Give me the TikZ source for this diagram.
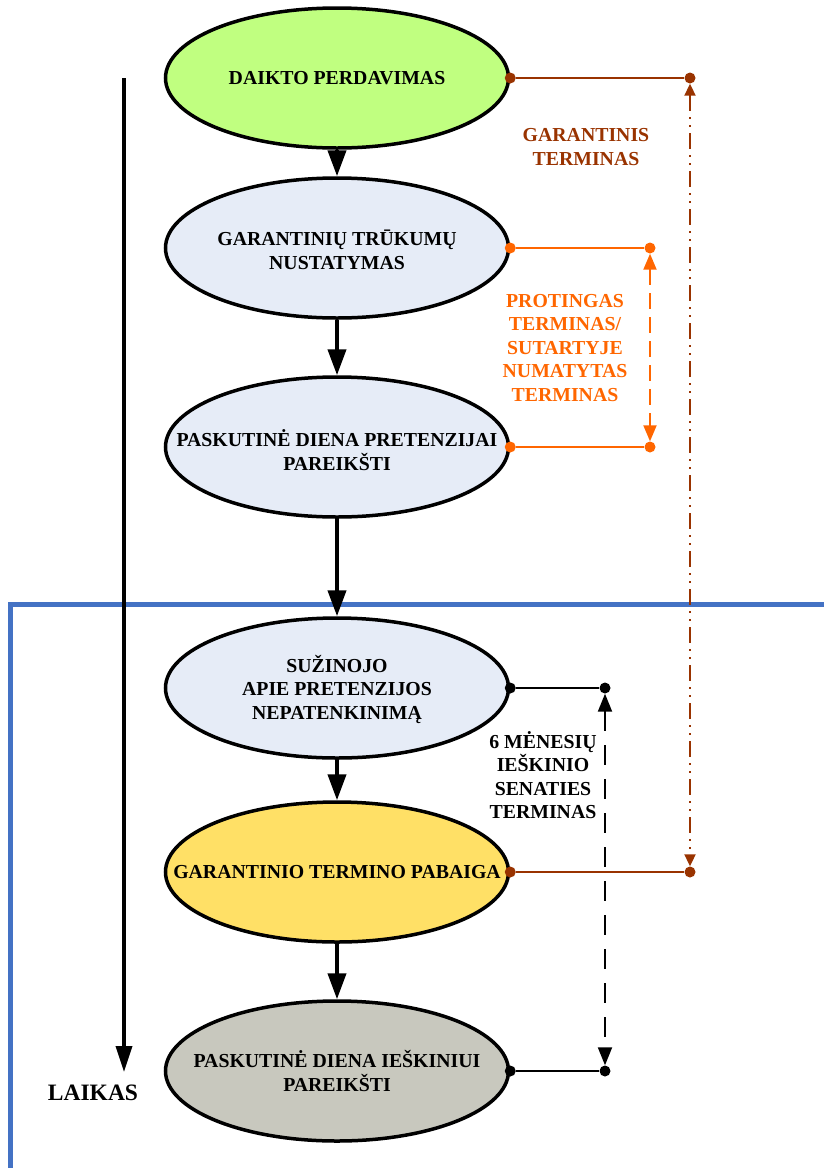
\documentclass[tikz,border=0pt]{standalone}
\usepackage{fontspec}
\setmainfont{Liberation Serif}
\usetikzlibrary{shapes.geometric,arrows.meta}
\definecolor{brownline}{RGB}{153,51,0}
\definecolor{orangeline}{RGB}{255,102,0}
\definecolor{frameblue}{RGB}{68,114,196}
\definecolor{fillgreen}{RGB}{192,255,128}
\definecolor{fillblue}{RGB}{230,236,247}
\definecolor{fillyellow}{RGB}{255,224,102}
\definecolor{fillgray}{RGB}{200,200,190}
\begin{document}
\begin{tikzpicture}[x=1pt,y=-1pt,
  event/.style={ellipse,draw=black,line width=3.5pt,minimum width=343pt,minimum height=140pt,
    inner sep=0pt},
  evtext/.style={inner sep=0pt,align=center,font=\bfseries\fontsize{19.8}{23.5}\selectfont},
  flow/.style={line width=4pt,-{Triangle[length=26pt,width=18pt]}},
  dotc/.style={circle,fill,inner sep=0pt,minimum size=11pt},
  link/.style={line width=2pt},
  lbl/.style={align=center,font=\bfseries\fontsize{19.8}{23.5}\selectfont}]
\useasboundingbox (0,0) rectangle (823,1168);

% frame of the second stage
\draw[frameblue,line width=5pt] (10,1170) -- (10,604) -- (825,604);

% time axis
\coordinate (t0) at (124,78);
\coordinate (t1) at (124,1072);
\draw[line width=3.5pt,-{Triangle[length=26pt,width=16pt]}] (t0) -- (t1);
\node[font=\bfseries\fontsize{23.5}{26}\selectfont] (laikas) at (93,1093) {LAIKAS};

% events
\node[event,fill=fillgreen] (e1) at (337,78) {};
\node[event,fill=fillblue] (e2) at (337,248) {};
\node[event,fill=fillblue] (e3) at (337,447) {};
\node[event,fill=fillblue] (e4) at (337,688) {};
\node[event,fill=fillyellow] (e5) at (337,872) {};
\node[event,fill=fillgray] (e6) at (337,1071) {};
\node[evtext] (e1t) at (e1) {DAIKTO PERDAVIMAS};
\node[evtext] (e2t) at (337,250) {GARANTINIŲ TRŪKUMŲ\\NUSTATYMAS};
\node[evtext] (e3t) at (337,450) {PASKUTINĖ DIENA PRETENZIJAI\\PAREIKŠTI};
\node[evtext] (e4t) at (337,689) {SUŽINOJO\\APIE PRETENZIJOS\\NEPATENKINIMĄ};
\node[evtext] (e5t) at (e5) {GARANTINIO TERMINO PABAIGA};
\node[evtext] (e6t) at (e6) {PASKUTINĖ DIENA IEŠKINIUI\\PAREIKŠTI};

\draw[flow] (e1.south) -- (e2.north);
\draw[flow] (e2.south) -- (e3.north);
\draw[flow] (e3.south) -- (e4.north);
\draw[flow] (e4.south) -- (e5.north);
\draw[flow] (e5.south) -- (e6.north);

% guarantee period
\node[dotc,brownline] (g0) at (e1.east) {};
\node[dotc,brownline] (g1) at (690,78) {};
\node[dotc,brownline] (g2) at (e5.east) {};
\node[dotc,brownline] (g3) at (690,872) {};
\draw[link,brownline] (g0) -- (g1);
\draw[link,brownline] (g2) -- (g3);
\draw[brownline,line width=2pt,dash pattern=on 16pt off 6pt on 2pt off 6pt on 2pt off 6pt,
  {Triangle[length=12pt,width=11pt]}-{Triangle[length=12pt,width=11pt]}] (g1) -- (g3);
\node[lbl,text=brownline] (gl) at (586,147) {GARANTINIS\\TERMINAS};

% reasonable / contractual period
\node[dotc,orangeline] (o0) at (e2.east) {};
\node[dotc,orangeline] (o1) at (650,248) {};
\node[dotc,orangeline] (o2) at (e3.east) {};
\node[dotc,orangeline] (o3) at (650,447) {};
\draw[link,orangeline] (o0) -- (o1);
\draw[link,orangeline] (o2) -- (o3);
\draw[orangeline,line width=2pt,dash pattern=on 16pt off 8pt,
  {Triangle[length=16pt,width=13pt]}-{Triangle[length=16pt,width=13pt]}] (o1) -- (o3);
\node[lbl,text=orangeline] (ol) at (565,348) {PROTINGAS\\TERMINAS/\\SUTARTYJE\\NUMATYTAS\\TERMINAS};

% limitation period
\node[dotc,black] (s0) at (e4.east) {};
\node[dotc,black] (s1) at (605,688) {};
\node[dotc,black] (s2) at (e6.east) {};
\node[dotc,black] (s3) at (605,1071) {};
\draw[link,black] (s0) -- (s1);
\draw[link,black] (s2) -- (s3);
\draw[black,line width=2pt,dash pattern=on 20pt off 14pt,
  {Triangle[length=18pt,width=14pt]}-{Triangle[length=18pt,width=14pt]}] (s1) -- (s3);
\node[lbl] (sl) at (543,775) {6 MĖNESIŲ\\IEŠKINIO\\SENATIES\\TERMINAS};
\end{tikzpicture}
\end{document}
